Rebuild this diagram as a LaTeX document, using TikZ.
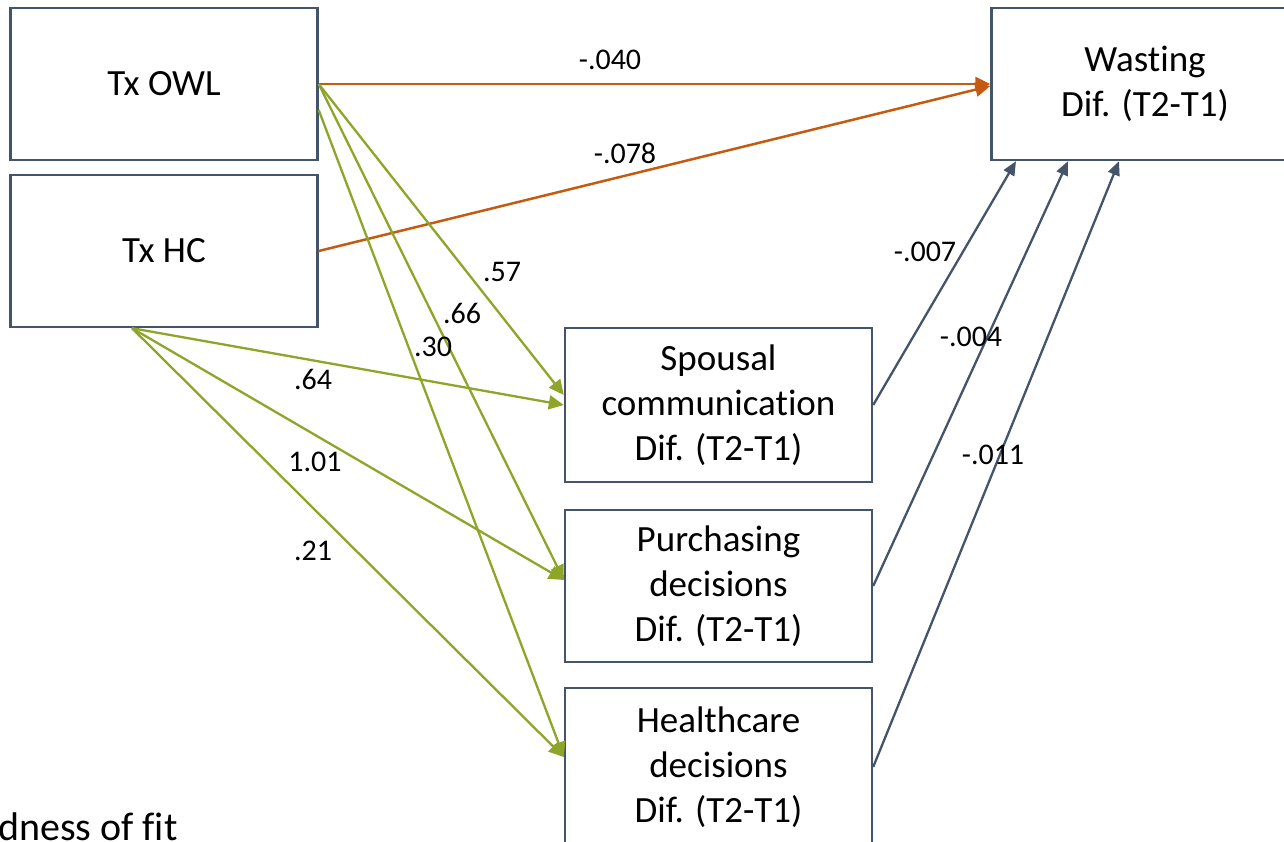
\documentclass[tikz,border=0pt]{standalone}
\usepackage{fontspec}
\setmainfont[Ligatures=NoCommon]{Carlito}
\usetikzlibrary{arrows.meta,calc}
\definecolor{boxline}{RGB}{68,84,106}
\definecolor{orangeline}{RGB}{197,90,17}
\definecolor{greenline}{RGB}{141,166,41}
\definecolor{slateline}{RGB}{68,84,106}
\begin{document}
\begin{tikzpicture}[x=1pt,y=-1pt,
  var/.style={draw=boxline, line width=2.4pt, minimum width=307pt, align=center,
    inner sep=0pt, font=\fontsize{37}{45}\selectfont},
  coef/.style={inner sep=0pt, font=\fontsize{30}{36}\selectfont},
  tip/.style={-{Triangle[length=15pt,width=14pt]}},
  orangearrow/.style={tip, draw=orangeline, line width=2.5pt},
  greenarrow/.style={tip, draw=greenline, line width=2.3pt},
  slatearrow/.style={-{Triangle[length=14pt,width=12pt]}, draw=slateline, line width=2.3pt}]
\useasboundingbox (0,0) rectangle (1284,842);
\clip (0,0) rectangle (1284,842);

% variables
\node[var, minimum height=152pt] (owl) at (164,84) {Tx OWL};
\node[var, minimum height=152pt] (hc) at (164,251) {Tx HC};
\node[var, minimum height=152pt] (wast) at (1145,84) {Wasting\\Dif. (T2-T1)};
\node[var, minimum height=154pt] (spou) at (718.5,405) {Spousal\\communication\\Dif. (T2-T1)};
\node[var, minimum height=152pt] (purch) at (718.5,586) {Purchasing\\decisions\\Dif. (T2-T1)};
\node[var, minimum height=158pt] (health) at (718.5,767) {Healthcare\\decisions\\Dif. (T2-T1)};

% direct effects on wasting
\draw[orangearrow] (owl.east) -- (wast.west);
\draw[orangearrow] (hc.east) -- ($(wast.west)+(0,2)$);

% treatment effects on the mediators
\draw[greenarrow] (owl.east) -- ($(spou.west)+(0,-10)$);
\draw[greenarrow] (owl.east) -- ($(purch.west)+(0,-6)$);
\draw[greenarrow] ($(owl.east)+(0,26)$) -- ($(health.west)+(0,-10)$);
\draw[greenarrow] ($(hc.south)+(-32,0)$) -- (spou.west);
\draw[greenarrow] ($(hc.south)+(-32,0)$) -- ($(purch.west)+(0,-6)$);
\draw[greenarrow] ($(hc.south)+(-32,0)$) -- ($(health.west)+(0,-10)$);

% mediators on wasting
\draw[slatearrow] (spou.east) -- ($(wast.south)+(-129,0)$);
\draw[slatearrow] (purch.east) -- ($(wast.south)+(-77,0)$);
\draw[slatearrow] (health.east) -- ($(wast.south)+(-26,0)$);

% path coefficients
\node[coef] (c1) at (610,60) {-.040};
\node[coef] (c2) at (625,153) {-.078};
\node[coef] (c3) at (502,272) {.57};
\node[coef] (c4) at (462,313) {.66};
\node[coef] (c5) at (433,347) {.30};
\node[coef] (c6) at (313,379) {.64};
\node[coef] (c7) at (315,462) {1.01};
\node[coef] (c8) at (313,551) {.21};
\node[coef] (c9) at (925,252) {-.007};
\node[coef] (c10) at (971,337) {-.004};
\node[coef] (c11) at (993,455) {-.011};

% footer text
\node[anchor=base west, inner sep=0pt, font=\fontsize{40}{48}\selectfont] (fit) at (-2,840) {dness of fit};
\end{tikzpicture}
\end{document}
